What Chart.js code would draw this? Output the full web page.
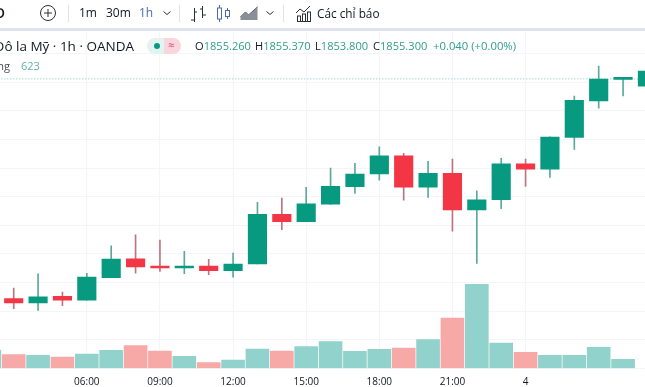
<!DOCTYPE html>
<html lang="vi">
<head>
<meta charset="utf-8">
<title>Vàng / Đô la Mỹ</title>
<script src="https://cdn.jsdelivr.net/npm/chart.js@4"></script>
<style>
    html, body { margin: 0; padding: 0; background: #fff; }
    body { width: 645px; height: 387px; overflow: hidden; position: relative; font-family: "Open Sans", sans-serif; color: #131722; }
    canvas { position: absolute; left: 0; top: 0; }
    .txt { position: absolute; white-space: nowrap; line-height: 16px; }
    .xanh { color: #2f9e8c; }
    .thanh { position: absolute; left: 0; top: 28px; width: 645px; height: 3px; background: #e0e3eb; }
    .vach { position: absolute; top: 5px; width: 1px; height: 17px; background: #e0e3eb; }
    svg { position: absolute; }
</style>
</head>
<body>
<canvas id="grafico" width="645" height="387"></canvas>

<div class="thanh"></div>
<div class="vach" style="left:68px"></div>
<div class="vach" style="left:179px"></div>
<div class="vach" style="left:283px"></div>

<div class="txt" style="right:640px;top:5px;font-size:14px;font-weight:600">XAUUSD</div>
<svg style="left:39px;top:4px" width="18" height="18" fill="none" stroke="#2a2e39" stroke-width="1"><circle cx="9" cy="9" r="7.5"/><path d="M9 5v8M5 9h8"/></svg>
<div class="txt" style="left:79px;top:5px;font-size:12px">1m</div>
<div class="txt" style="left:106px;top:5px;font-size:12px">30m</div>
<div class="txt" style="left:139px;top:5px;font-size:12px;color:#4a6bb0">1h</div>
<svg style="left:162px;top:9px" width="10" height="8" fill="none" stroke="#2a2e39"><path d="M1.5 2.5l3.5 3 3.5-3"/></svg>
<svg style="left:190px;top:5px" width="17" height="17" fill="none" stroke="#2a2e39"><path d="M4.5 3v14M4.5 15H1M4.5 7H7M12.5 1v12M12.5 4H10M12.5 10H16"/></svg>
<svg style="left:216px;top:5px" width="15" height="17" fill="none" stroke="#4a6bb0"><path d="M3.5 0v17M11.5 3v11"/><rect x="1.5" y="3" width="4" height="11" fill="#fff"/><rect x="9.5" y="5.5" width="4" height="6" fill="#fff"/></svg>
<svg style="left:240px;top:6px" width="18" height="14" fill="none" stroke="#2a2e39"><path d="M0.5 11l5-5 3 3 9-8" /><path d="M0.5 14V11l5-5 3 3 9-8V14z" fill="#8a8e99" stroke="none"/></svg>
<svg style="left:265px;top:9px" width="10" height="8" fill="none" stroke="#2a2e39"><path d="M1.5 2.5l3.5 3 3.5-3"/></svg>
<svg style="left:295px;top:5px" width="17" height="17" fill="none" stroke="#2a2e39"><path d="M1 8l4-4 4 3 6-6M2 16.5h14"/><rect x="2.5" y="11" width="3" height="5.5"/><rect x="7.5" y="9" width="3" height="7.5"/><rect x="12.5" y="7" width="3" height="9.5"/></svg>
<div class="txt" style="left:317px;top:5px;font-size:11.8px">Các chỉ báo</div>

<div class="txt" style="right:511px;top:38px;font-size:13.5px">Vàng / Đô la Mỹ · 1h · OANDA</div>
<div style="position:absolute;left:147px;top:38px;width:17px;height:16px;background:#e3f3f0;border-radius:8px 0 0 8px"></div>
<div style="position:absolute;left:164px;top:38px;width:17px;height:16px;background:#fbd5dc;border-radius:0 8px 8px 0"></div>
<div style="position:absolute;left:154px;top:43px;width:6px;height:6px;background:#089981;border-radius:3px"></div>
<div class="txt" style="left:168px;top:37px;font-size:11px;color:#d6336c">≈</div>
<div class="txt" style="left:195px;top:38px;font-size:11.1px">O<span class="xanh">1855.260</span></div>
<div class="txt" style="left:255px;top:38px;font-size:11.1px">H<span class="xanh">1855.370</span></div>
<div class="txt" style="left:315px;top:38px;font-size:11.1px">L<span class="xanh">1853.800</span></div>
<div class="txt" style="left:373px;top:38px;font-size:11.1px">C<span class="xanh">1855.300</span></div>
<div class="txt xanh" style="left:433px;top:38px;font-size:11.3px">+0.040 (+0.00%)</div>
<div class="txt" style="right:635px;top:58px;font-size:11px;color:#4a4e59">Khối lượng</div>
<div class="txt" style="left:21px;top:58px;font-size:11px;color:#5cb3a7">623</div>

<script>
// --- DADOS ---

// horas de cada posição; a primeira só aparece como um fio de volume na borda
const horas = ['02:00', '03:00', '04:00', '05:00', '06:00', '07:00', '08:00', '09:00', '10:00', '11:00',
    '12:00', '13:00', '14:00', '15:00', '16:00', '17:00', '18:00', '19:00', '20:00', '21:00',
    '22:00', '23:00', '4', '01:00', '02:00', '03:00', '04:00', '05:00'];
const posicoesTicks = [4, 7, 10, 13, 16, 19, 22];

const abertura = [null, 1836.08, 1835.70, 1836.28, 1835.94, 1837.91, 1839.57, 1838.93, 1838.76, 1838.93,
    1838.52, 1839.11, 1843.45, 1842.81, 1844.35, 1845.87, 1846.98, 1848.58, 1845.84, 1847.04,
    1843.85, 1844.73, 1847.88, 1847.41, 1850.18, 1853.38, 1855.26, 1854.67];
const fechamento = [null, 1835.70, 1836.25, 1835.94, 1837.97, 1839.55, 1838.85, 1838.76, 1838.93, 1838.52,
    1839.11, 1843.45, 1842.81, 1844.38, 1845.90, 1846.98, 1848.58, 1845.84, 1847.04, 1843.85,
    1844.73, 1847.88, 1847.41, 1850.21, 1853.42, 1855.28, 1855.30, 1855.98];
const maximo = [null, 1837.01, 1838.26, 1836.66, 1838.30, 1840.71, 1841.67, 1841.21, 1840.22, 1839.52,
    1840.07, 1844.50, 1844.88, 1845.81, 1847.50, 1847.91, 1849.36, 1848.78, 1848.09, 1848.29,
    1845.52, 1848.35, 1848.29, 1850.24, 1853.79, 1856.42, 1855.37, 1856.10];
const minimo = [null, 1835.20, 1835.06, 1835.46, 1835.94, 1837.91, 1838.30, 1838.47, 1838.26, 1838.17,
    1837.97, 1839.11, 1842.11, 1842.81, 1844.33, 1845.29, 1846.45, 1844.70, 1844.94, 1841.99,
    1839.17, 1843.94, 1845.90, 1846.69, 1849.13, 1852.74, 1853.80, 1854.50];
const volumes = [1274, 945, 903, 784, 994, 1253, 1575, 1204, 833, 385,
    574, 1344, 1204, 1505, 1855, 1183, 1323, 1414, 1995, 3514,
    5873, 1764, 1113, 903, 903, 1463, 623, null];
const volumeSobe = [true, false, true, false, true, true, false, false, true, false,
    true, true, false, true, true, true, true, false, true, false,
    true, true, false, true, true, true, true, true];
const precoAtual = 1855.30;

const VERDE = '#089981';
const VERMELHO = '#f23645';

const corPavio = v => v ? '#5aa99b' : '#c0737f';

function sobe(i) {
    return fechamento[i] >= abertura[i];
}

const corpos = [];
const pavios = [];
const coresCorpo = [];
const coresPavio = [];
abertura.forEach((a, i) => {
    if (a === null) return;
    corpos.push({ x: i, y: [a, fechamento[i]] });
    pavios.push({ x: i, y: [minimo[i], maximo[i]] });
    coresCorpo.push(sobe(i) ? VERDE : VERMELHO);
    coresPavio.push(corPavio(sobe(i)));
});

new Chart(document.getElementById('grafico'), {
    type: 'bar',
    data: {
        datasets: [
            {
                label: 'Khối lượng',
                yAxisID: 'yVol',
                data: volumes.map((v, i) => ({ x: i, y: v })),
                backgroundColor: volumeSobe.map(v => v ? '#92d2cc' : '#f7a9a7'),
                barThickness: 23,
                grouped: false,
                order: 4
            },
            {
                type: 'line',
                label: 'Giá',
                yAxisID: 'y',
                data: [{ x: 0, y: precoAtual }, { x: 28, y: precoAtual }],
                borderColor: '#7cc4b9',
                borderWidth: 1,
                borderDash: [1, 2],
                pointRadius: 0,
                order: 3
            },
            {
                label: 'Pavio',
                yAxisID: 'y',
                data: pavios,
                backgroundColor: coresPavio,
                barThickness: 1,
                grouped: false,
                order: 2
            },
            {
                label: 'Corpo',
                yAxisID: 'y',
                data: corpos,
                backgroundColor: coresCorpo,
                barThickness: 18.5,
                minBarLength: 2,
                grouped: false,
                order: 1
            }
        ]
    },
    options: {
        responsive: false,
        animation: false,
        events: [],
        layout: { padding: { top: 32, left: 0, right: 0, bottom: 0 } },
        plugins: { legend: { display: false }, tooltip: { enabled: false } },
        scales: {
            x: {
                type: 'linear',
                offset: false,
                min: 0.438,
                max: 26.9,
                afterBuildTicks: s => { s.ticks = posicoesTicks.map(v => ({ value: v })); },
                afterFit: s => { s.height = 18.8; },
                grid: { color: '#f3f5fa', drawTicks: false, offset: false },
                border: { display: false },
                ticks: {
                    autoSkip: false,
                    maxRotation: 0,
                    padding: 8,
                    color: '#131722',
                    font: { family: '"Open Sans"', size: 10 },
                    callback: v => horas[v]
                }
            },
            y: {
                min: 1830,
                max: 1859.4,
                afterFit: s => { s.width = 0; },
                afterBuildTicks: s => { s.ticks = s.ticks.filter(t => t.value % 2.5 === 0); },
                grid: { color: '#f3f5fa', drawTicks: false },
                border: { display: false },
                ticks: { display: false, stepSize: 2.5, includeBounds: false }
            },
            yVol: {
                min: 0,
                max: 23534,
                display: false
            }
        }
    }
});
</script>
</body>
</html>
